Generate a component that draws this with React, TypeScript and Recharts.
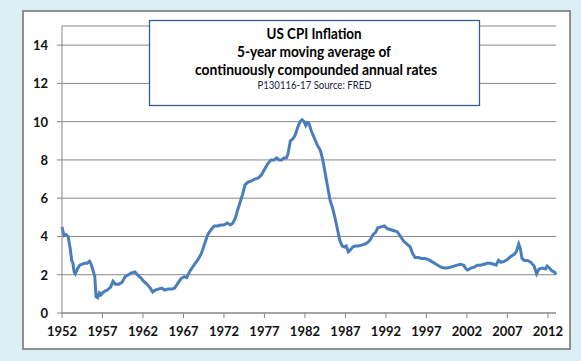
import React from 'react';
import { LineChart, Line, XAxis, YAxis, CartesianGrid } from 'recharts';

// years (decimal) and 5-yr moving average of CPI inflation, % per year
const years = [
  1952.0, 1952.1, 1952.25, 1952.5, 1952.75, 1953.0, 1953.2, 1953.35, 1953.5, 1953.65, 1953.9,
  1954.2, 1954.5, 1954.8, 1955.1, 1955.4, 1955.6, 1955.85, 1956.05, 1956.2, 1956.4, 1956.6,
  1956.8, 1957.0, 1957.3, 1957.6, 1958.0, 1958.3, 1958.6, 1959.0, 1959.4, 1959.8, 1960.2,
  1960.6, 1961.0, 1961.3, 1961.7, 1962.1, 1962.5, 1962.9, 1963.2, 1963.5, 1963.9, 1964.3,
  1964.7, 1965.1, 1965.5, 1965.9, 1966.3, 1966.7, 1967.1, 1967.4, 1967.8, 1968.3, 1968.8,
  1969.2, 1969.6, 1970.0, 1970.4, 1970.8, 1971.2, 1971.6, 1972.0, 1972.4, 1972.8, 1973.1,
  1973.4, 1973.7, 1974.0, 1974.3, 1974.6, 1975.0, 1975.4, 1975.8, 1976.2, 1976.6, 1977.0,
  1977.4, 1977.8, 1978.2, 1978.5, 1978.8, 1979.1, 1979.4, 1979.7, 1979.9, 1980.2, 1980.5,
  1980.8, 1981.1, 1981.4, 1981.65, 1981.9, 1982.1, 1982.3, 1982.5, 1982.8, 1983.1, 1983.5,
  1983.9, 1984.2, 1984.5, 1984.8, 1985.1, 1985.4, 1985.7, 1986.0, 1986.3, 1986.6, 1986.9,
  1987.1, 1987.35, 1987.6, 1987.9, 1988.2, 1988.6, 1989.0, 1989.4, 1989.8, 1990.1, 1990.4,
  1990.7, 1991.0, 1991.4, 1991.8, 1992.2, 1992.6, 1993.0, 1993.4, 1993.8, 1994.2, 1994.6,
  1995.0, 1995.3, 1995.6, 1996.0, 1996.4, 1996.8, 1997.2, 1997.6, 1998.0, 1998.4, 1998.8,
  1999.2, 1999.6, 2000.0, 2000.4, 2000.8, 2001.2, 2001.6, 2001.9, 2002.1, 2002.5, 2002.9,
  2003.3, 2003.7, 2004.1, 2004.5, 2004.9, 2005.3, 2005.6, 2005.9, 2006.2, 2006.6, 2007.0,
  2007.4, 2007.8, 2008.1, 2008.4, 2008.6, 2008.8, 2009.1, 2009.5, 2009.9, 2010.3, 2010.6,
  2010.9, 2011.3, 2011.7, 2011.9, 2012.2, 2012.5, 2012.8, 2013.0,
];

const cpiRate = [
  4.5, 4.3, 4.05, 4.1, 4.0, 3.4, 2.75, 2.6, 2.15, 2.05, 2.3,
  2.5, 2.55, 2.6, 2.6, 2.7, 2.55, 2.2, 1.9, 0.85, 0.8, 1.05,
  0.95, 1.05, 1.15, 1.2, 1.35, 1.65, 1.5, 1.5, 1.6, 1.9, 2.0,
  2.1, 2.15, 2.0, 1.85, 1.65, 1.5, 1.3, 1.1, 1.2, 1.25, 1.3,
  1.2, 1.25, 1.25, 1.3, 1.55, 1.8, 1.9, 1.85, 2.2, 2.5, 2.8,
  3.1, 3.6, 4.1, 4.35, 4.55, 4.55, 4.6, 4.6, 4.7, 4.6, 4.7,
  4.95, 5.4, 5.8, 6.2, 6.7, 6.85, 6.9, 7.0, 7.05, 7.2, 7.5,
  7.8, 8.0, 8.0, 8.1, 8.0, 8.0, 8.1, 8.1, 8.3, 9.0, 9.1,
  9.3, 9.7, 10.0, 10.1, 10.0, 9.8, 9.95, 9.9, 9.5, 9.2, 8.8,
  8.5, 8.0, 7.3, 6.6, 5.9, 5.5, 5.0, 4.4, 3.8, 3.5, 3.45,
  3.5, 3.2, 3.3, 3.45, 3.5, 3.5, 3.55, 3.6, 3.7, 3.85, 4.1,
  4.2, 4.45, 4.5, 4.55, 4.4, 4.35, 4.3, 4.25, 4.0, 3.75, 3.6,
  3.45, 3.1, 2.9, 2.9, 2.85, 2.85, 2.8, 2.7, 2.6, 2.5, 2.4,
  2.35, 2.35, 2.4, 2.45, 2.5, 2.55, 2.5, 2.3, 2.25, 2.35, 2.4,
  2.5, 2.5, 2.55, 2.6, 2.6, 2.55, 2.5, 2.75, 2.65, 2.7, 2.8,
  2.95, 3.05, 3.2, 3.6, 3.35, 2.85, 2.75, 2.75, 2.65, 2.45, 2.05,
  2.3, 2.35, 2.3, 2.45, 2.35, 2.2, 2.15, 2.0,
];

const xTicks = [1952, 1957, 1962, 1967, 1972, 1977, 1982, 1987, 1992, 1997, 2002, 2007, 2012];
const yTicks = [0, 2, 4, 6, 8, 10, 12, 14];

const titleLines = [
  'US CPI Inflation',
  '5-year moving average of',
  'continuously compounded annual rates',
];
const sourceNote = 'P130116-17 Source: FRED';

const data = years.map((y, i) => ({ year: y, rate: cpiRate[i] }));

const font = 'Lato, "Open Sans", sans-serif';

const XTick = ({ x, y, payload }: any) => (
  <text x={x} y={y + 16} textAnchor="middle" fontFamily={font} fontSize={13} fontWeight={700} fill="#111">
    {payload.value}
  </text>
);

const YTick = ({ x, y, payload }: any) => (
  <text x={x - 7} y={y + 5} textAnchor="end" fontFamily={font} fontSize={13} fontWeight={700} fill="#111">
    {payload.value}
  </text>
);

export default function App() {
  return (
    <div style={{ position: 'absolute', left: 0, top: 0, width: 581, height: 361, background: '#dbeef4' }}>
      <div
        style={{
          position: 'absolute', left: 22, top: 10, width: 549, height: 340,
          boxSizing: 'border-box', background: '#fff', border: '2px solid #8f8f8f',
        }}
      />
      <div style={{ position: 'absolute', left: 0, top: 0 }}>
        <LineChart width={581} height={361} data={data} margin={{ top: 26, right: 25, left: 0, bottom: 18 }}>
          <CartesianGrid vertical={false} stroke="#878787" strokeWidth={1} />
          <XAxis
            dataKey="year"
            type="number"
            domain={[1952, 2013]}
            ticks={xTicks}
            interval={0}
            height={30}
            tickSize={5}
            axisLine={{ stroke: '#878787' }}
            tickLine={{ stroke: '#878787' }}
            tick={<XTick />}
          />
          <YAxis
            type="number"
            domain={[0, 15]}
            ticks={yTicks}
            interval={0}
            width={62}
            tickSize={5}
            axisLine={{ stroke: '#878787' }}
            tickLine={{ stroke: '#878787' }}
            tick={<YTick />}
          />
          <Line
            type="linear"
            dataKey="rate"
            stroke="#4a7ebb"
            strokeWidth={3}
            dot={false}
            isAnimationActive={false}
          />
        </LineChart>
      </div>
      <svg width={581} height={361} style={{ position: 'absolute', left: 0, top: 0 }}>
        <rect x={149.5} y={20.5} width={330} height={85} fill="#fff" stroke="#385d8a" strokeWidth={1.3} />
        <text x={314} y={39} textAnchor="middle" fontFamily={font} fontSize={15} fontWeight={700} fill="#000"
          textLength={95} lengthAdjust="spacingAndGlyphs">{titleLines[0]}</text>
        <text x={314} y={57} textAnchor="middle" fontFamily={font} fontSize={15} fontWeight={700} fill="#000"
          textLength={154} lengthAdjust="spacingAndGlyphs">{titleLines[1]}</text>
        <text x={316} y={75} textAnchor="middle" fontFamily={font} fontSize={15} fontWeight={700} fill="#000"
          textLength={242} lengthAdjust="spacingAndGlyphs">{titleLines[2]}</text>
        <text x={314.5} y={89} textAnchor="middle" fontFamily={font} fontSize={10.5} fill="#1a1a40"
          textLength={114} lengthAdjust="spacingAndGlyphs">{sourceNote}</text>
      </svg>
    </div>
  );
}
